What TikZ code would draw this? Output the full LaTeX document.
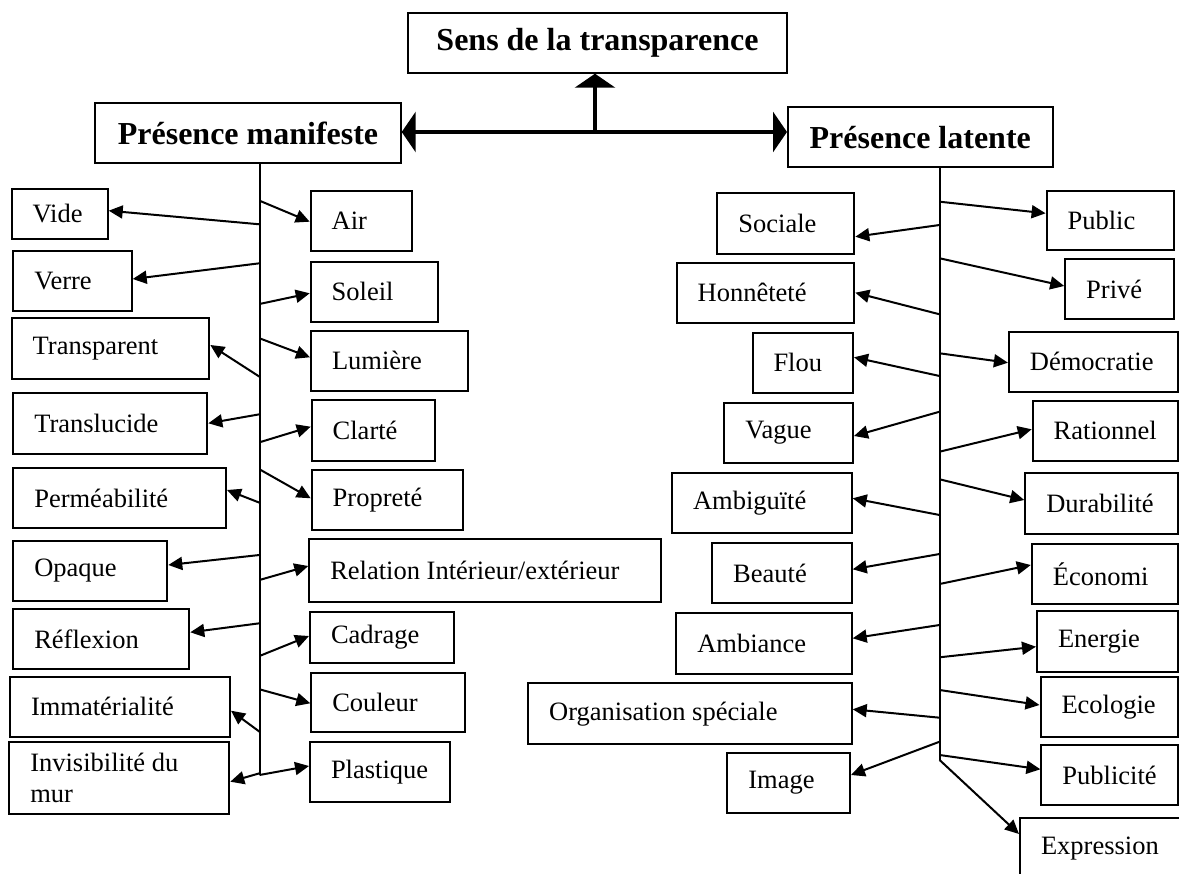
\documentclass[tikz,border=0pt]{standalone}
\usepackage{fontspec}
\setmainfont{Liberation Serif}
\usetikzlibrary{arrows.meta}

\newcommand{\bodyfont}{\fontsize{26.5pt}{31pt}\selectfont\hyphenpenalty=10000}
\newcommand{\titlefont}{\fontsize{32pt}{36pt}\selectfont\bfseries}

\tikzset{
  box/.style={draw, line width=2pt, rectangle, inner xsep=21pt, inner ysep=0pt,
    align=flush left, font=\bodyfont},
  titlebox/.style={draw, line width=2pt, rectangle, inner sep=0pt, font=\titlefont},
  arr/.style={line width=2pt, -{Triangle[length=14pt,width=13pt]}},
  bigarr/.style={line width=4pt, {Triangle[length=14pt,width=40pt]}-{Triangle[length=14pt,width=40pt]}},
  uparr/.style={line width=4pt, -{Triangle[length=14pt,width=40pt]}},
  trunk/.style={line width=2pt}
}

\begin{document}
\begin{tikzpicture}[x=1pt,y=-1pt]
  \useasboundingbox (0,0) rectangle (1179,874);
  \clip (0,0) rectangle (1179,874);

  % titles
  \node[titlebox, minimum width=379pt, minimum height=59.4pt] (sens) at (597.5,43) {Sens de la transparence};
  \node[titlebox, minimum width=305.4pt, minimum height=60pt] (pm) at (248,133.3) {Présence manifeste};
  \node[titlebox, minimum width=264.5pt, minimum height=60pt] (pl) at (920.25,137.3) {Présence latente};

  \coordinate (hub) at (595,132);
  \draw[bigarr] (pm.east |- hub) -- (pl.west |- hub);
  \draw[uparr] (hub) -- (sens.south -| hub);

  % trunks
  \coordinate (ltrunk) at (259.5,775);
  \coordinate (rtrunk) at (939.6,760);
  \draw[trunk] (pm.south -| ltrunk) -- (ltrunk);
  \draw[trunk] (pl.south -| rtrunk) -- (rtrunk);

  % boxes: name/left/top/right/bottom/text
  \foreach \n/\l/\t/\r/\b/\txt in {
    vide/11.7/189.3/107.7/238.7/Vide,
    verre/13.3/250.7/131.7/310.7/Verre,
    transp/11.7/318.3/209.3/379/Transparent,
    transl/13.3/393.3/207.3/454/Translucide,
    perm/13.3/468.3/226/528.3/Perméabilité,
    opaque/13.3/541/167.3/600.7/Opaque,
    refl/13.3/609/189.3/669.3/Réflexion,
    immat/10/676.7/230/736.7/Immatérialité,
    invis/9.3/741.7/229.3/814/{Invisibilité du\\mur},
    air/310.7/190.7/412/250.7/Air,
    soleil/310.7/261.7/437.7/321.7/Soleil,
    lum/311/330.7/468.3/391/Lumière,
    clarte/311.7/400/435.3/461/Clarté,
    propr/311.7/470/463.3/530.3/Propreté,
    relat/309.3/539.3/660.7/602/{Relation Intérieur/extérieur},
    cadr/310/611.7/453.7/662.5/Cadrage,
    coul/311.3/672.7/465/732/Couleur,
    plast/310/742.2/450/801.7/Plastique,
    soc/717.4/193.3/854.3/254/Sociale,
    honn/676.7/262.7/854.3/322.7/Honnêteté,
    flou/752.5/332.7/853/392.7/Flou,
    vague/724.3/402.7/853/463.3/Vague,
    ambig/672/472.7/851.7/533.3/Ambiguïté,
    beaute/712.2/542.7/851.7/603.3/Beauté,
    ambia/676.3/613.3/851.7/674/Ambiance,
    orga/528.2/683.3/851.7/744/Organisation spéciale,
    image/727.4/752.7/850/813.3/Image,
    public/1046.6/190.7/1174.3/250/Public,
    prive/1065.2/259.3/1174.3/319.3/Privé,
    demo/1008.9/331.7/1177.8/391.7/Démocratie,
    ratio/1032.7/400.7/1177.8/460.7/Rationnel,
    durab/1025.3/473.3/1177.8/534/Durabilité,
    econ/1031.8/544/1177.8/604/Économi,
    energ/1037/611/1177.8/672.3/Energie,
    ecolo/1040.5/676.7/1177.8/737.3/Ecologie,
    publi/1041.4/745/1177.8/805/Publicité,
    expr/1020/818/1190/880/Expression%
  }{
    \pgfmathsetmacro\tw{\r-\l-42}
    \pgfmathsetmacro\bh{\b-\t}
    \node[box, text width=\tw pt, minimum height=\bh pt] (\n) at ({(\l+\r)/2},{(\t+\b)/2}) {\txt};
  }

  % left trunk
  \foreach \ys/\n/\yt in {224.3/vide/210.7, 263.3/verre/279, 376.7/transp/345,
    414.3/transl/423.3, 502.7/perm/490, 555/opaque/565, 623.3/refl/632.3,
    731.7/immat/710.7, 773.3/invis/781.7}{
    \coordinate (s-\n) at (ltrunk |- 0,\ys);
    \draw[arr] (s-\n) -- (\n.east |- 0,\yt);
  }
  \foreach \ys/\n/\yt in {200.7/air/221.7, 304/soleil/293.3, 338.3/lum/357.3,
    442.3/clarte/426.7, 469.3/propr/498.3, 580/relat/566, 656/cadr/636,
    689.3/coul/703.3, 775/plast/766}{
    \coordinate (s-\n) at (ltrunk |- 0,\ys);
    \draw[arr] (s-\n) -- (\n.west |- 0,\yt);
  }

  % right trunk
  \foreach \ys/\n/\yt in {225/soc/236.7, 314.3/honn/292.7, 376/flou/357.3,
    411.7/vague/436, 515/ambig/498.3, 554/beaute/569.3, 625/ambia/638.3,
    717.7/orga/709.3, 741.7/image/775}{
    \coordinate (s-\n) at (rtrunk |- 0,\ys);
    \draw[arr] (s-\n) -- (\n.east |- 0,\yt);
  }
  \foreach \ys/\n/\yt in {201.7/public/213.3, 258.3/prive/286, 353.3/demo/362.7,
    451.7/ratio/429.3, 479.3/durab/500, 584/econ/565, 657.3/energ/646.7,
    690/ecolo/705, 755/publi/769.3, 760/expr/834}{
    \coordinate (s-\n) at (rtrunk |- 0,\ys);
    \draw[arr] (s-\n) -- (\n.west |- 0,\yt);
  }
\end{tikzpicture}
\end{document}
